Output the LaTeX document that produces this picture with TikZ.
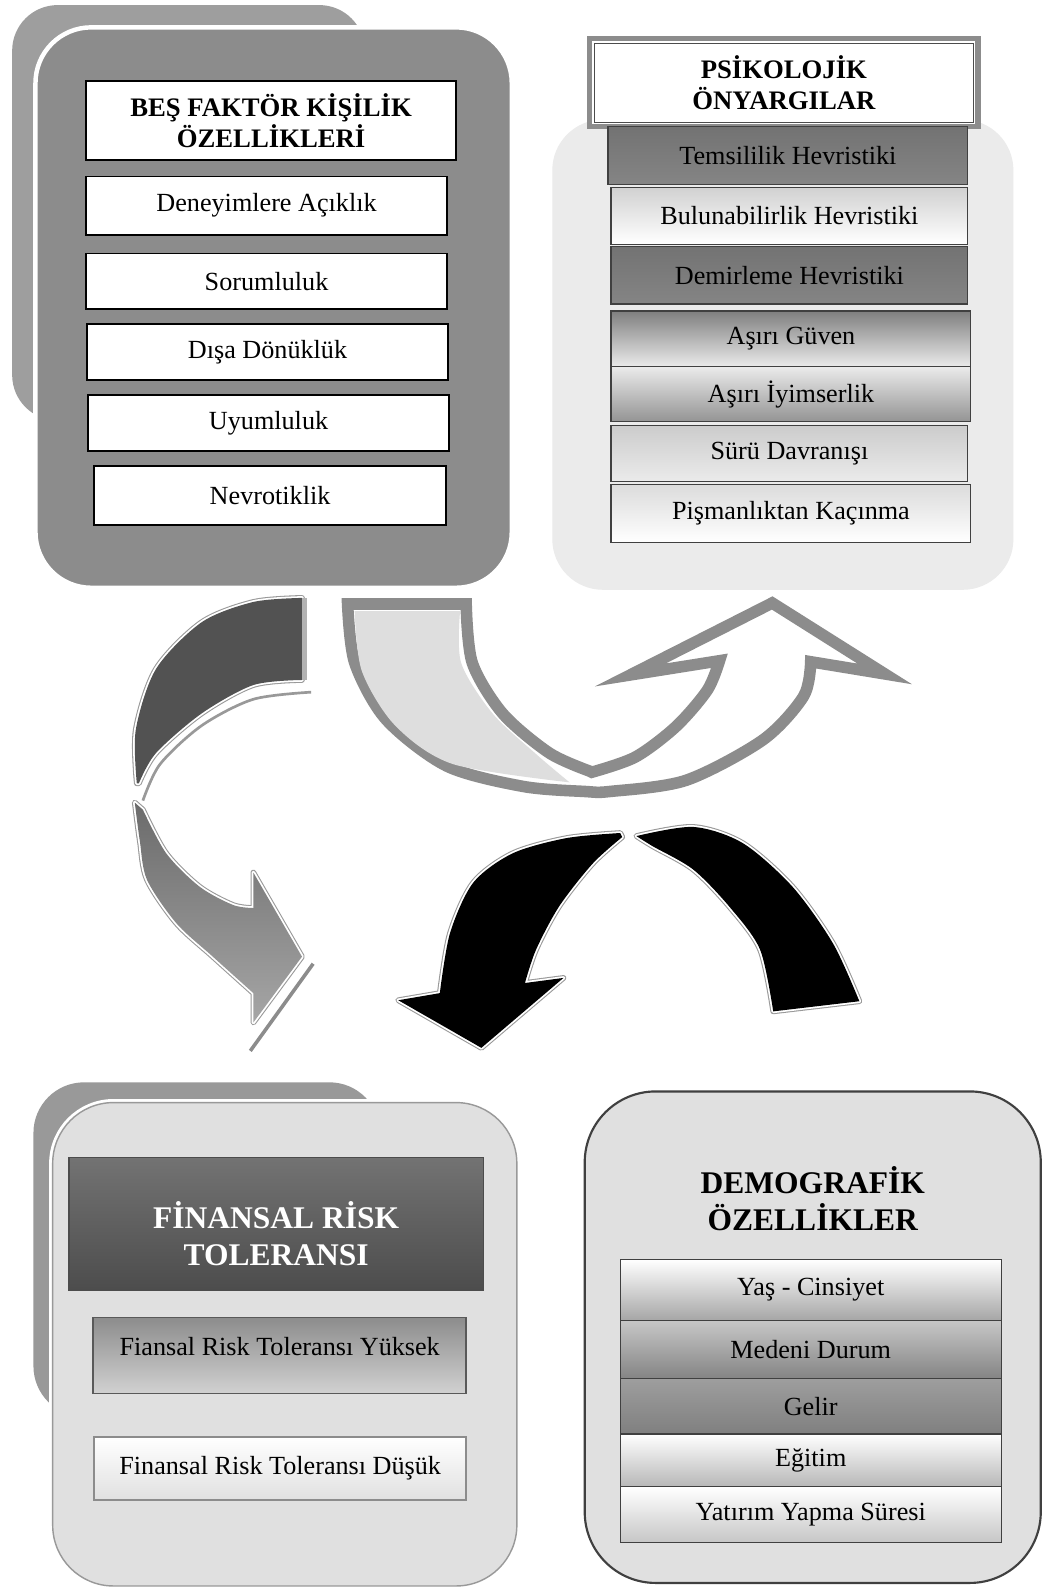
\documentclass[tikz,border=0pt]{standalone}
\usepackage{fontspec}
\setmainfont{Liberation Serif}
\newcommand\itemfont{\fontsize{14.7}{17.5}\selectfont}
\newcommand\titlefont{\fontsize{15}{17.5}\selectfont\bfseries}
\newcommand\bigtitlefont{\fontsize{17.7}{20.5}\selectfont\bfseries}
\newcommand\tbox[7]{%
  \pgfmathsetmacro\tbw{(#4-#2)*0.02}%
  \pgfmathsetmacro\tbh{(#5-#3)*0.02}%
  \node[#6, minimum width=\tbw cm, minimum height=\tbh cm] (#1) at ({(#2+#4)/2},{(#3+#5)/2}) {#7};%
}
\begin{document}
\begin{tikzpicture}[x=0.02cm, y=-0.02cm,
  base/.style={inner sep=0pt, outer sep=0pt, align=center},
  itm/.style={base, draw=black, line width=0.9pt, fill=white, font=\itemfont},
  pitm/.style={base, draw=black!75, line width=0.7pt, font=\itemfont},
  ttl/.style={base, draw=black, line width=0.9pt, fill=white, font=\titlefont},
  halo/.style={preaction={draw=black!40, line width=3.2pt, line join=round},
               preaction={draw=white, line width=2pt, line join=round}}]
\useasboundingbox (0,0) rectangle (1029,1568);
\fill[white] (0,0) rectangle (1029,1568);

% ---------- top-left panel ----------
\tbox{bfBack}{12}{5}{360}{415}{base, fill=black!38, rounded corners=0.9cm}{}
\tbox{bfPanel}{35}{27}{505}{580}{base, fill=black!45, draw=white, line width=2.5pt, rounded corners=1.1cm}{}
\tbox{bfTitle}{85}{80}{450}{158}{ttl}{BEŞ FAKTÖR KİŞİLİK\\ÖZELLİKLERİ}
\tbox{bfA}{85}{174}{441}{232}{itm}{Deneyimlere Açıklık}
\tbox{bfB}{85}{250}{441}{305}{itm}{Sorumluluk}
\tbox{bfC}{86}{320}{442}{375}{itm}{Dışa Dönüklük}
\tbox{bfD}{87}{390}{443}{445}{itm}{Uyumluluk}
\tbox{bfE}{93}{460}{440}{518}{itm}{Nevrotiklik}

% ---------- top-right panel ----------
\tbox{poBg}{545}{118}{1000}{582}{base, fill=black!8, rounded corners=1cm}{}
\tbox{poTitle}{582}{38}{965}{125}{base, fill=white, draw=black!45, line width=3pt, font=\titlefont}{PSİKOLOJİK\\ÖNYARGILAR}
\draw[black!70, line width=0.5pt] ([shift={(2.5pt,-2.5pt)}]poTitle.north west) rectangle ([shift={(-2.5pt,2.5pt)}]poTitle.south east);
\tbox{poA}{600}{125}{955}{182}{pitm, top color=black!55, middle color=black!32, bottom color=black!48}{Temsililik Hevristiki}
\tbox{poB}{603}{185}{955}{241}{pitm, top color=black!18, bottom color=white}{Bulunabilirlik Hevristiki}
\tbox{poC}{603}{243}{955}{300}{pitm, top color=black!55, middle color=black!32, bottom color=black!48}{Demirleme Hevristiki}
\tbox{poD}{603}{307}{958}{362}{pitm, top color=black!50, bottom color=black!8}{Aşırı Güven}
\tbox{poE}{603}{362}{958}{416}{pitm, top color=black!8, bottom color=black!42}{Aşırı İyimserlik}
\tbox{poF}{603}{420}{955}{475}{pitm, top color=black!20, bottom color=black!8}{Sürü Davranışı}
\tbox{poG}{603}{478}{958}{535}{pitm, top color=black!14, bottom color=white}{Pişmanlıktan Kaçınma}

% ---------- left curved arrow ----------
\path[fill=black!68, halo] plot[smooth] coordinates {(298,590)(250,594)(199,614)(154,660)(134,720)(135,773)}
  -- plot[smooth] coordinates {(137,773)(154,743)(199,704)(250,676)(298,671)} -- cycle;
\fill[black!30] (298,590) rectangle (303,671);
\draw[black!40, line width=1.5pt] plot[smooth] coordinates {(307,683)(250,690)(199,716)(158,754)(141,790)};
\path[halo, top color=black!58, bottom color=black!35]
  plot[smooth] coordinates {(133,792)(138,830)(145,868)(174,911)(210,944)(250,980)}
  -- (250,1009) -- (298,944) -- (250,861) -- (250,896)
  -- plot[smooth] coordinates {(250,896)(230,893)(197,875)(164,842)(141,799)} -- cycle;
\draw[black!45, line width=2pt] (309,951) -- (247,1037);

% ---------- U arrow ----------
\path[fill=white, draw=black!45, line width=6.5pt, line join=miter]
  plot[smooth] coordinates {(343,596)(350,654)(381,710)(441,756)(516,776)(577,781)(602,781)(677,770)(753,730)(793,687)(800,653)}
  -- (873,665) -- (762,595) -- (622,666) -- (710,652)
  -- plot[smooth] coordinates {(710,652)(698,681)(667,717)(627,747)(584,762)}
  -- plot[smooth] coordinates {(582,761)(542,743)(496,704)(466,654)(460,596)} -- cycle;
\fill[black!13] plot[smooth] coordinates {(350,603)(357,662)(390,716)(447,754)(562,772)}
  -- plot[smooth] coordinates {(562,772)(530,745)(486,704)(455,654)(454,603)} -- cycle;

% ---------- black arch arrow ----------
\path[fill=black, halo] (763,998) -- (848,988)
  -- plot[smooth] coordinates {(848,988)(822,931)(782,875)(733,832)(684,816)(628,825)}
  -- plot[smooth] coordinates {(628,825)(644,835)(684,858)(720,895)(750,937)(763,998)} -- cycle;
\path[fill=black, halo] plot[smooth] coordinates {(612,822)(559,827)(506,842)(467,871)(444,921)(434,980)}
  -- (393,987) -- (475,1034) -- (556,965) -- (518,970)
  -- plot[smooth] coordinates {(518,970)(529,937)(552,894)(585,852)(614,826)} -- cycle;

% ---------- bottom-left panel ----------
\tbox{frBack}{33}{1068}{375}{1398}{base, fill=black!40, rounded corners=1cm}{}
\tbox{frPanel}{52}{1088}{510}{1565}{base, fill=black!12, draw=black!40, line width=0.8pt, rounded corners=1.2cm, preaction={draw=white, line width=4pt}}{}
\tbox{frTitle}{68}{1142}{477}{1273}{base, top color=black!55, bottom color=black!70, draw=black!70, line width=0.8pt, font=\bigtitlefont, text=white}{\raisebox{-0.45cm}[0pt][0pt]{\begin{tabular}{@{}c@{}}FİNANSAL RİSK\\TOLERANSI\end{tabular}}}
\tbox{frHigh}{92}{1300}{460}{1375}{itm, draw=black!65, top color=black!45, bottom color=black!18}{\raisebox{0pt}[0pt][0pt]{Fiansal Risk Toleransı Yüksek}}
\tbox{frLow}{93}{1418}{460}{1480}{itm, draw=black!45, top color=white, bottom color=black!12}{Finansal Risk Toleransı Düşük}

% ---------- bottom-right panel ----------
\tbox{dmPanel}{577}{1077}{1027}{1562}{base, fill=black!12, draw=black!75, line width=1.2pt, rounded corners=1.4cm}{}
\node[base, font=\bigtitlefont] (dmTitle) at (802,1183) {DEMOGRAFİK\\ÖZELLİKLER};
\tbox{dmA}{612}{1243}{988}{1303}{pitm, top color=white, bottom color=black!35}{Yaş - Cinsiyet}
\tbox{dmB}{612}{1303}{988}{1360}{pitm, top color=black!22, middle color=black!8, bottom color=black!48}{Medeni Durum}
\tbox{dmC}{612}{1360}{988}{1415}{pitm, top color=black!38, middle color=black!15, bottom color=black!50}{Gelir}
\tbox{dmD}{612}{1415}{988}{1467}{pitm, top color=white, bottom color=black!28}{Eğitim}
\tbox{dmE}{612}{1467}{988}{1522}{pitm, top color=white, bottom color=black!22}{Yatırım Yapma Süresi}
\end{tikzpicture}
\end{document}
